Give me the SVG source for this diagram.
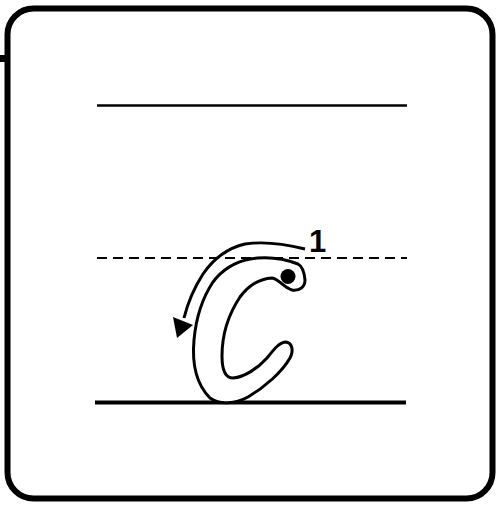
<svg xmlns="http://www.w3.org/2000/svg" width="498" height="508" viewBox="0 0 498 508">
<style>
.ln{stroke:#000;fill:none}
.lbl{font-family:"Liberation Sans",Arial,sans-serif;font-weight:bold;font-size:31px}
</style>
<rect x="0" y="0" width="498" height="508" fill="#fff"/>
<g id="frame">
<rect x="7.5" y="8.5" width="485" height="490" rx="26" class="ln" stroke-width="6"/>
<rect x="0" y="55" width="6" height="7" fill="#000"/>
</g>
<g id="guides">
<line x1="97" y1="105.5" x2="407" y2="105.5" class="ln" stroke-width="2.5"/>
<line x1="97" y1="258" x2="407" y2="258" class="ln" stroke-width="2" stroke-dasharray="10 6"/>
<line x1="95" y1="402.5" x2="406" y2="402.5" class="ln" stroke-width="4"/>
</g>
<g id="letter">
<path d="M305,280 C304,270 302,266 298,264 C285,259 268,256 250,259 C235,262 222,270 213,282 C203,297 196,318 194,340 C192,362 196,384 210,398 C220,405 235,404 248,397 C265,387 282,372 290,358 C294,350 292,343 286,342 C280,342 275,348 267,358 C258,368 245,377 233,378 C225,378 222,370 222,356 C222,335 228,315 240,297 C248,286 258,279 272,278 C279,279 283,287 292,290 C300,291 305,287 305,280 Z" fill="#fff" stroke="#000" stroke-width="3"/>
<circle cx="288" cy="276.5" r="7.5" fill="#000"/>
</g>
<g id="connectors">
<path d="M305,249 C285,244 265,241 245,244 C228,248 214,258 203,274 C194,288 188,302 184,318" class="ln" stroke-width="3"/>
<polygon points="177,338 173,317 193,325" fill="#000"/>
</g>
<g id="label">
<text x="309" y="252" class="lbl">1</text>
</g>
</svg>
